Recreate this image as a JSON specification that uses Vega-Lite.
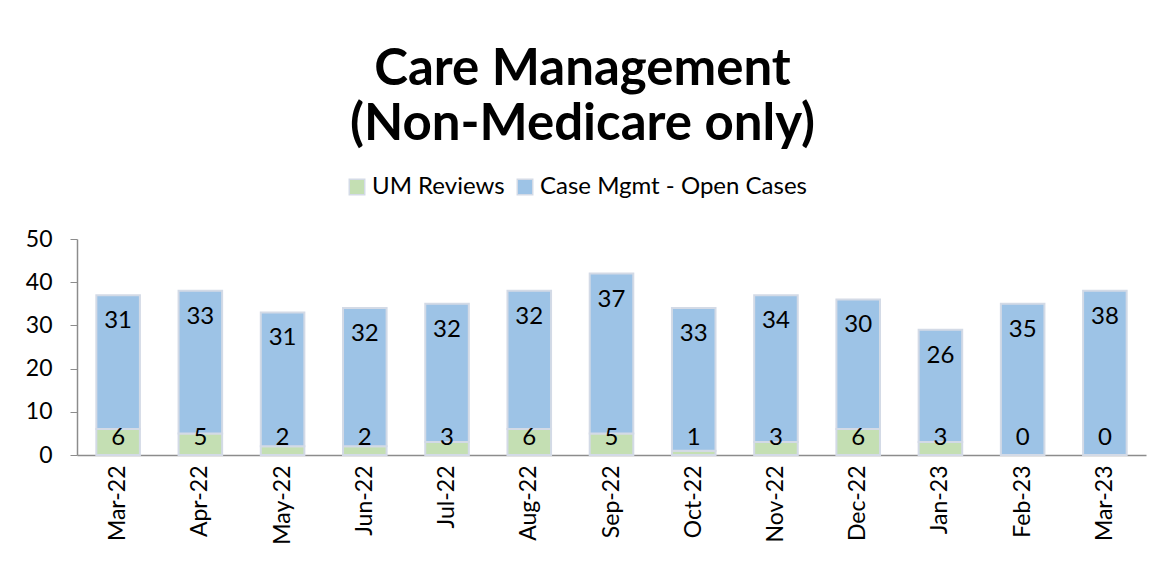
{
  "$schema": "https://vega.github.io/schema/vega-lite/v6.json",
  "autosize": "none",
  "width": 1069,
  "height": 216,
  "padding": {"left": 77, "top": 239, "right": 17, "bottom": 109},
  "background": "white",
  "config": {"view": {"stroke": null}},
  "title": {
    "text": ["Care Management", "(Non-Medicare only)"],
    "font": "Lato",
    "fontSize": 51,
    "fontWeight": "bold",
    "color": "black",
    "lineHeight": 55,
    "frame": "group",
    "anchor": "middle",
    "offset": 24,
    "dx": -29
  },
  "data": {
    "values": [
      {"month": "Mar-22", "UM Reviews": 6, "Case Mgmt - Open Cases": 31},
      {"month": "Apr-22", "UM Reviews": 5, "Case Mgmt - Open Cases": 33},
      {"month": "May-22", "UM Reviews": 2, "Case Mgmt - Open Cases": 31},
      {"month": "Jun-22", "UM Reviews": 2, "Case Mgmt - Open Cases": 32},
      {"month": "Jul-22", "UM Reviews": 3, "Case Mgmt - Open Cases": 32},
      {"month": "Aug-22", "UM Reviews": 6, "Case Mgmt - Open Cases": 32},
      {"month": "Sep-22", "UM Reviews": 5, "Case Mgmt - Open Cases": 37},
      {"month": "Oct-22", "UM Reviews": 1, "Case Mgmt - Open Cases": 33},
      {"month": "Nov-22", "UM Reviews": 3, "Case Mgmt - Open Cases": 34},
      {"month": "Dec-22", "UM Reviews": 6, "Case Mgmt - Open Cases": 30},
      {"month": "Jan-23", "UM Reviews": 3, "Case Mgmt - Open Cases": 26},
      {"month": "Feb-23", "UM Reviews": 0, "Case Mgmt - Open Cases": 35},
      {"month": "Mar-23", "UM Reviews": 0, "Case Mgmt - Open Cases": 38}
    ]
  },
  "transform": [
    {"fold": ["UM Reviews", "Case Mgmt - Open Cases"], "as": ["series", "value"]},
    {"stack": "value", "groupby": ["month"], "sort": [{"field": "series", "order": "descending"}], "as": ["v0", "v1"]}
  ],
  "encoding": {
    "x": {
      "field": "month",
      "type": "nominal",
      "sort": null,
      "scale": {"paddingInner": 0.47, "paddingOuter": 0.235},
      "axis": {
        "title": null,
        "labelAngle": -90,
        "labelFont": "Lato",
        "labelFontSize": 23,
        "labelColor": "black",
        "ticks": false,
        "labelPadding": 10,
        "domainColor": "#8c8c8c",
        "domainWidth": 1.5
      }
    }
  },
  "layer": [
    {
      "mark": {"type": "bar", "stroke": "#d3dae6", "strokeWidth": 2},
      "encoding": {
        "y": {
          "field": "v1",
          "type": "quantitative",
          "scale": {"domain": [0, 50]},
          "axis": {
            "title": null,
            "values": [0, 10, 20, 30, 40, 50],
            "grid": false,
            "labelFont": "Lato",
            "labelFontSize": 23,
            "labelColor": "black",
            "labelPadding": 18,
            "tickSize": 7,
            "tickColor": "#8c8c8c",
            "domainColor": "#8c8c8c",
            "domainWidth": 1.5
          }
        },
        "y2": {"field": "v0"},
        "color": {
          "field": "series",
          "type": "nominal",
          "scale": {"domain": ["UM Reviews", "Case Mgmt - Open Cases"], "range": ["#c4dfb3", "#9dc3e6"]},
          "legend": {
            "title": null,
            "orient": "none",
            "direction": "horizontal",
            "legendX": 268,
            "legendY": -64,
            "symbolType": "square",
            "symbolSize": 240,
            "symbolStrokeColor": "#d3dae6",
            "symbolStrokeWidth": 1.5,
            "labelFont": "Lato",
            "labelFontSize": 24,
            "labelColor": "black",
            "labelOffset": 3,
            "labelLimit": 400,
            "columnPadding": 8
          }
        }
      }
    },
    {
      "transform": [{"filter": "datum.series === 'UM Reviews'"}],
      "mark": {"type": "text", "font": "Lato", "fontSize": 24, "baseline": "bottom", "dy": -5, "color": "black"},
      "encoding": {
        "y": {"field": "v0", "type": "quantitative"},
        "text": {"field": "value", "type": "quantitative"}
      }
    },
    {
      "transform": [{"filter": "datum.series === 'Case Mgmt - Open Cases'"}],
      "mark": {"type": "text", "font": "Lato", "fontSize": 24, "baseline": "middle", "dy": 26, "color": "black"},
      "encoding": {
        "y": {"field": "v1", "type": "quantitative"},
        "text": {"field": "value", "type": "quantitative"}
      }
    }
  ]
}
